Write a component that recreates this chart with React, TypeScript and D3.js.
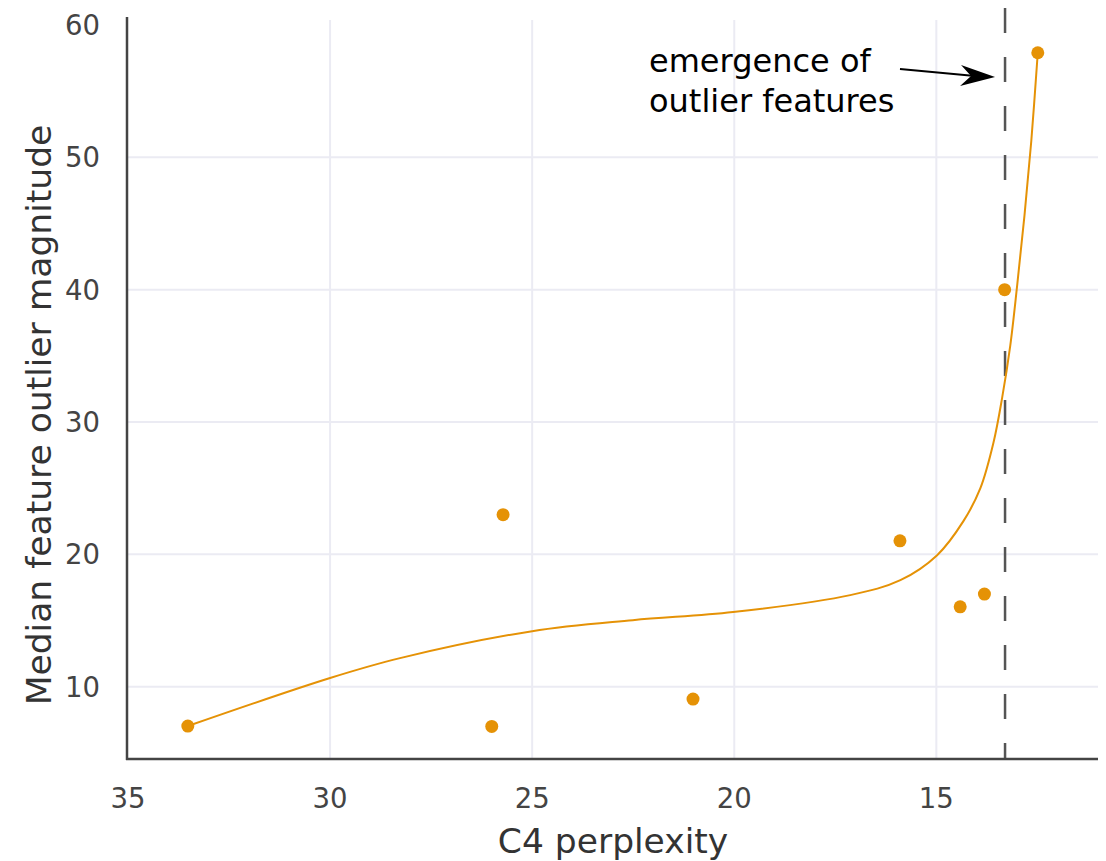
import React from "react";
import * as d3 from "d3";

const width = 1106;
const height = 861;
const margin = { top: 17, right: 8, bottom: 102, left: 128 };

// measured points (C4 perplexity, median outlier magnitude)
const perplexity = [33.52, 26.0, 25.72, 21.02, 15.9, 14.41, 13.81, 13.31, 12.49];
const magnitude = [7.03, 7.0, 23.0, 9.07, 21.02, 16.04, 17.0, 40.0, 57.9];

// fitted curve
const fitX = [33.52, 30.0, 28.27, 25.0, 22.51, 20.03, 17.13, 15.89, 14.98, 14.33, 13.91, 13.59, 13.37, 13.17, 13.0, 12.82, 12.65, 12.49];
const fitY = [7.03, 10.66, 12.16, 14.2, 15.03, 15.64, 16.92, 18.05, 19.94, 22.51, 25.0, 28.39, 31.86, 35.79, 40.32, 45.58, 51.25, 57.9];

const xTicks = [35, 30, 25, 20, 15];
const yTicks = [10, 20, 30, 40, 50, 60];
const yGrid = [10, 20, 30, 40, 50];
const emergenceX = 13.3;

const orange = "rgb(229,146,6)";
const font = "DejaVu Sans, Verdana, sans-serif";

export default function App() {
  const x = d3.scaleLinear().domain([35, 11]).range([margin.left, width - margin.right]);
  const y = d3.scaleLinear().domain([4.54, 60.6]).range([height - margin.bottom, margin.top]);

  const fit = d3
    .line<number>()
    .x((d) => x(fitX[d]))
    .y((d) => y(fitY[d]))
    .curve(d3.curveCatmullRom.alpha(0.5))(fitX.map((_, i) => i));

  const tipX = x(emergenceX) - 10;
  const tipY = 77;

  return (
    <svg width={width} height={height} style={{ position: "absolute", left: 0, top: 0, background: "#fff" }}>
      {/* grid */}
      <g stroke="#ebebf3" strokeWidth={2}>
        {xTicks.slice(1).map((t) => (
          <line key={t} x1={x(t)} x2={x(t)} y1={20} y2={y.range()[0]} />
        ))}
        {yGrid.map((t) => (
          <line key={t} x1={margin.left} x2={width - margin.right} y1={y(t)} y2={y(t)} />
        ))}
      </g>

      {/* emergence line */}
      <line
        x1={x(emergenceX)}
        x2={x(emergenceX)}
        y1={8}
        y2={y.range()[0]}
        stroke="#555"
        strokeWidth={2.5}
        strokeDasharray="25,24"
      />

      {/* axes */}
      <g stroke="#444" strokeWidth={2.5}>
        <line x1={margin.left - 1} x2={margin.left - 1} y1={margin.top} y2={y.range()[0] + 1} />
        <line x1={margin.left - 2} x2={width - margin.right} y1={y.range()[0]} y2={y.range()[0]} />
      </g>

      {/* fit + points */}
      <path d={fit || ""} fill="none" stroke={orange} strokeWidth={2} />
      {perplexity.map((p, i) => (
        <circle key={i} cx={x(p)} cy={y(magnitude[i])} r={6.5} fill={orange} />
      ))}

      {/* tick labels */}
      <g fontFamily={font} fontSize={27.5} fill="#444">
        {xTicks.map((t) => (
          <text key={t} x={x(t)} y={808} textAnchor="middle">
            {t}
          </text>
        ))}
        {yTicks.map((t) => (
          <text key={t} x={100} y={y(t)} textAnchor="end" dominantBaseline="central">
            {t}
          </text>
        ))}
      </g>

      {/* axis titles */}
      <text x={(x.range()[0] + x.range()[1]) / 2} y={853} textAnchor="middle" fontFamily={font} fontSize={34.5} fill="#333">
        C4 perplexity
      </text>
      <text
        transform="translate(51,415) rotate(-90)"
        textAnchor="middle"
        fontFamily={font}
        fontSize={34.5}
        fill="#333"
      >
        Median feature outlier magnitude
      </text>

      {/* annotation */}
      <g fontFamily={font} fontSize={32} fill="#000">
        <text x={649} y={72}>emergence of</text>
        <text x={649} y={112}>outlier features</text>
      </g>
      <line x1={900} y1={69} x2={tipX - 20} y2={tipY - 1} stroke="#000" strokeWidth={2} />
      <path
        d={`M${tipX},${tipY} L${tipX - 34},${tipY - 12} L${tipX - 24},${tipY - 1} L${tipX - 35},${tipY + 9} Z`}
        fill="#000"
      />
    </svg>
  );
}
